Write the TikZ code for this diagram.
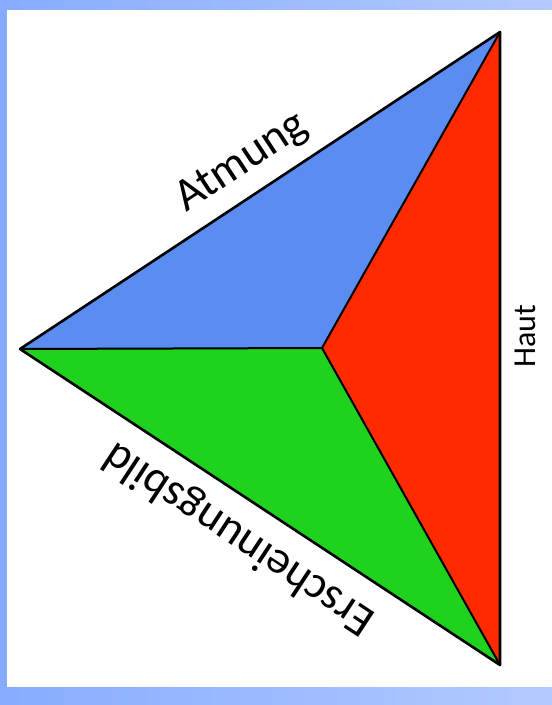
\documentclass[tikz,border=0pt]{standalone}
\usepackage{fontspec}
\setmainfont{Carlito}
\usepackage{tikz}
\usetikzlibrary{calc}

\definecolor{frameleft}{RGB}{135,172,255}
\definecolor{framemid}{RGB}{95,158,255}
\definecolor{frameright}{RGB}{178,202,255}
\definecolor{atmungblue}{RGB}{90,140,242}
\definecolor{hautred}{RGB}{255,42,0}
\definecolor{bildgreen}{RGB}{30,210,30}

\begin{document}
\begin{tikzpicture}[x=1pt, y=-1pt, line join=round]
    % Frame
    \useasboundingbox (0,0) rectangle (552,705);
    \shade[left color=frameleft, middle color=framemid, right color=frameright] (0,0) rectangle (552,705);
    \fill[white] (7,10) rectangle (552,687);

    % Corners of the triangle
    \coordinate (top) at (500,32);
    \coordinate (left) at (20,349);
    \coordinate (bottom) at (500,665);
    \coordinate (centre) at (322,348);

    % Three faces
    \fill[atmungblue] (left) -- (top) -- (centre) -- cycle;
    \fill[hautred] (top) -- (bottom) -- (centre) -- cycle;
    \fill[bildgreen] (left) -- (centre) -- (bottom) -- cycle;

    % Inner lines
    \draw[line width=2] (left) -- (centre);
    \draw[line width=2] (top) -- (centre) -- (bottom);
    % Outline
    \draw[line width=2.6] (left) -- (top) -- (bottom) -- cycle;

    % Labels
    \node (atmung) [rotate=33.4, anchor=base, inner sep=0] at (248,172) {\fontsize{46}{50}\selectfont Atmung};
    \node (bild) [rotate=146.6, anchor=base, inner sep=0] at (246,528) {\fontsize{46}{50}\selectfont Erscheinungsbild};
    \node (haut) [rotate=90, anchor=base, inner sep=0] at (535,336) {\fontsize{32}{36}\selectfont Haut};
\end{tikzpicture}
\end{document}
